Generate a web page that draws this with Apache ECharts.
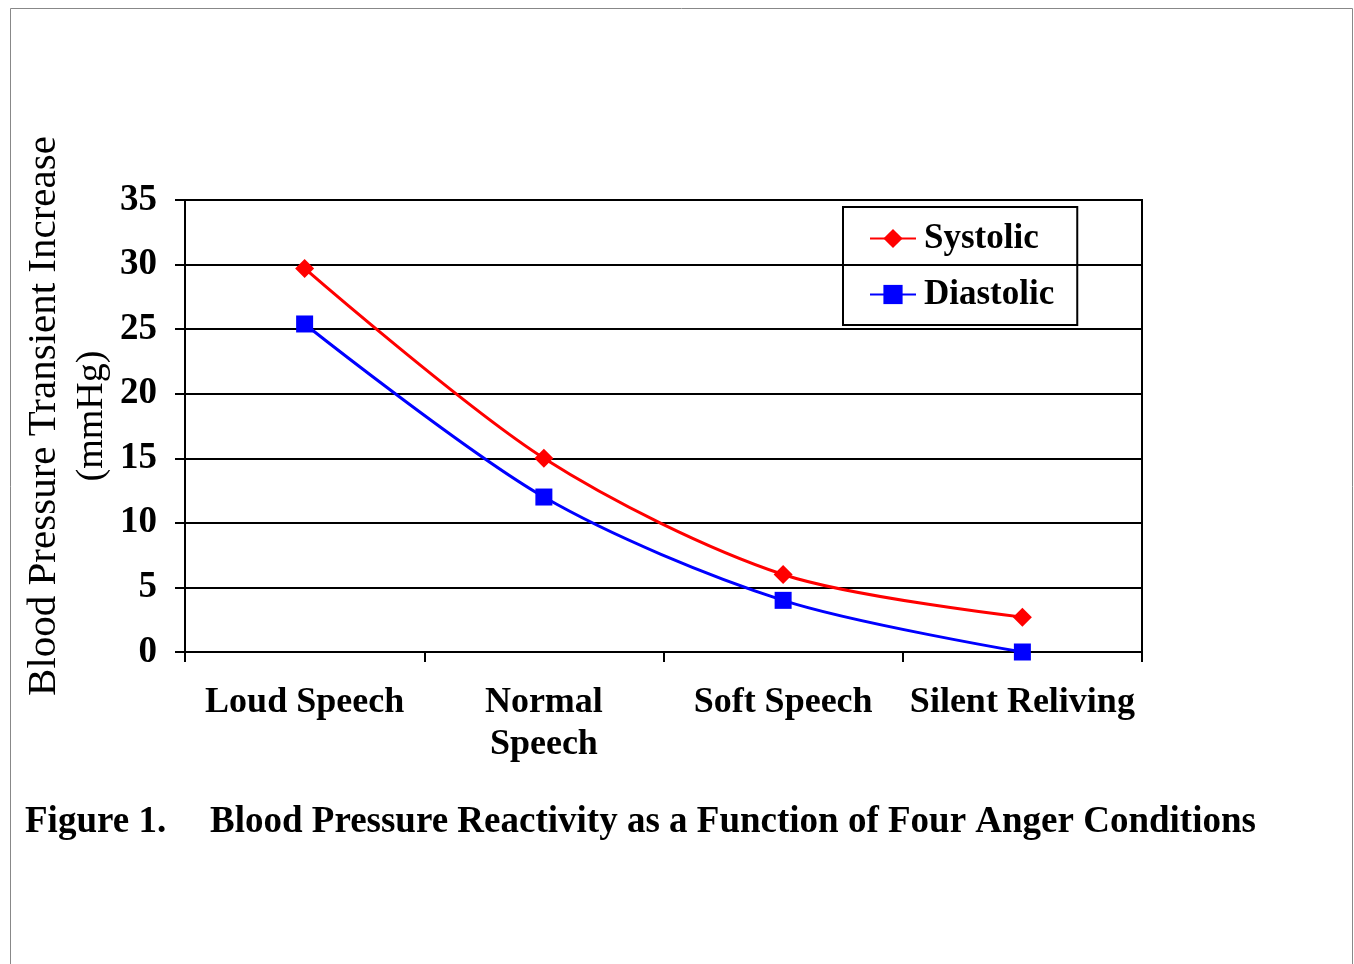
<!DOCTYPE html>
<html>
<head>
<meta charset="utf-8">
<script src="https://cdn.jsdelivr.net/npm/echarts@6/dist/echarts.min.js"></script>
<style>
html,body{margin:0;padding:0;background:#fff;}
#c{width:1354px;height:964px;}
</style>
</head>
<body>
<div id="c"></div>
<script>
const categories = ['Loud Speech', 'Normal\nSpeech', 'Soft Speech', 'Silent Reliving'];
const systolic = [29.7, 15.0, 6.0, 2.7];
const diastolic = [25.4, 12.0, 4.0, 0.0];
const yTicks = [0, 5, 10, 15, 20, 25, 30, 35];

const FONT = '"Liberation Serif", "Times New Roman", serif';
const chart = echarts.init(document.getElementById('c'));
chart.setOption({
  animation: false,
  backgroundColor: '#fff',
  grid: {left: 185, right: 212, top: 200, bottom: 312, show: true, borderColor: '#000', borderWidth: 2, backgroundColor: 'transparent'},
  legend: {
    orient: 'vertical', left: 843, top: 207,
    borderColor: '#000', borderWidth: 2, padding: [14, 23, 13, 26],
    itemWidth: 46, itemHeight: 24, itemGap: 21,
    textStyle: {fontFamily: FONT, fontWeight: 'bold', fontSize: 35, color: '#000', padding: [0, 0, 0, 3]},
    data: ['Systolic', 'Diastolic']
  },
  xAxis: {
    type: 'category', data: categories, boundaryGap: true,
    axisLine: {lineStyle: {color: '#000', width: 2}},
    axisTick: {show: true, length: 10, lineStyle: {color: '#000', width: 2}},
    axisLabel: {fontFamily: FONT, fontWeight: 'bold', fontSize: 36, color: '#000', margin: 30, lineHeight: 42, interval: 0}
  },
  yAxis: {
    type: 'value', min: yTicks[0], max: yTicks[yTicks.length - 1], interval: 5,
    axisLine: {show: true, lineStyle: {color: '#000', width: 2}},
    axisTick: {show: true, length: 10, lineStyle: {color: '#000', width: 2}},
    splitLine: {show: true, lineStyle: {color: '#000', width: 2}},
    axisLabel: {fontFamily: FONT, fontWeight: 'bold', fontSize: 37, color: '#000', margin: 28}
  },
  graphic: [
    {type: 'rect', silent: true, z: -10, shape: {x: 10.5, y: 8.5, width: 1342, height: 1000}, style: {fill: 'none', stroke: '#888', lineWidth: 1}},
    {type: 'text', x: 44, y: 416, rotation: Math.PI / 2, style: {text: 'Blood Pressure Transient Increase', font: '41px ' + FONT, fill: '#000', align: 'center', verticalAlign: 'middle'}},
    {type: 'text', x: 92, y: 416, rotation: Math.PI / 2, style: {text: '(mmHg)', font: '38px ' + FONT, fill: '#000', align: 'center', verticalAlign: 'middle'}},
    {type: 'text', x: 25, y: 822, style: {text: 'Figure 1.', font: 'bold 37px ' + FONT, fill: '#000', verticalAlign: 'middle'}},
    {type: 'text', x: 210, y: 822, style: {text: 'Blood Pressure Reactivity as a Function of Four Anger Conditions', font: 'bold 37px ' + FONT, fill: '#000', verticalAlign: 'middle'}}
  ],
  series: [
    {name: 'Systolic', type: 'line', data: systolic, smooth: 0.3, symbol: 'diamond', symbolSize: 19,
     lineStyle: {color: '#ff0000', width: 3}, itemStyle: {color: '#ff0000'}},
    {name: 'Diastolic', type: 'line', data: diastolic, smooth: 0.3, symbol: 'rect', symbolSize: 17,
     lineStyle: {color: '#0000ff', width: 3}, itemStyle: {color: '#0000ff'}}
  ]
});
</script>
</body>
</html>
